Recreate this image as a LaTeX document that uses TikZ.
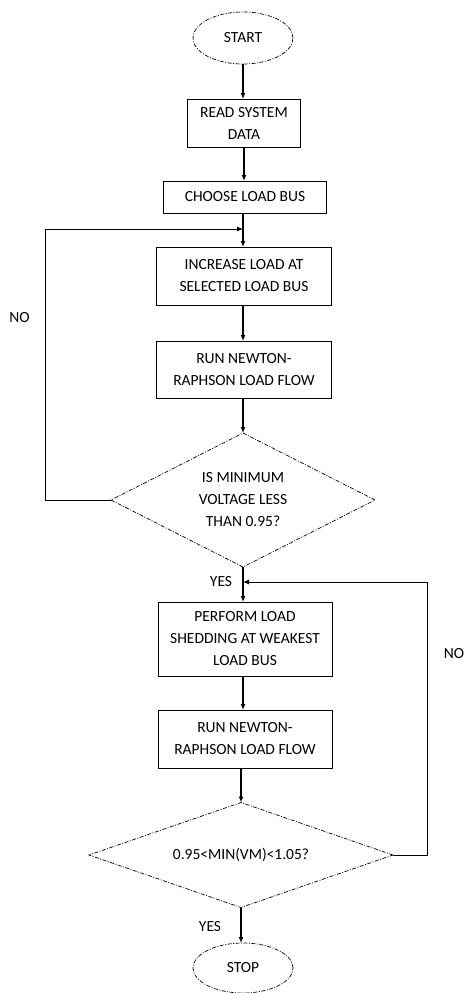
\documentclass[tikz,border=0pt]{standalone}
\usepackage{fontspec}
\setmainfont{Carlito}
\usetikzlibrary{shapes.geometric,arrows.meta}
\begin{document}
\begin{tikzpicture}[x=1pt,y=-1pt,
  font=\fontsize{15.5}{22}\selectfont,
  every node/.style={outer sep=0pt},
  procbox/.style={draw, line width=0.9pt, rectangle, inner sep=0pt, align=center},
  term/.style={draw, line width=0.7pt, ellipse, dash pattern=on 4pt off 1.5pt on 1pt off 1.5pt, inner sep=0pt, minimum width=100pt, minimum height=52pt},
  decision/.style={draw, line width=0.7pt, diamond, aspect=2, dash pattern=on 4pt off 1.5pt on 1pt off 1.5pt, inner sep=0pt, align=center},
  flow/.style={line width=1.2pt, -{Latex[length=6pt,width=5pt]}},
  loopline/.style={line width=0.9pt, -{Latex[length=6pt,width=5pt]}},
  lbl/.style={inner sep=0pt}
]
\useasboundingbox (0,0) rectangle (465,993);

\node[term] (start) at (243,38) {START};
\node[procbox, minimum width=113pt, minimum height=48pt] (read) at (244,123) {READ SYSTEM\\DATA};
\node[procbox, minimum width=163pt, minimum height=32pt] (choose) at (245,197) {CHOOSE LOAD BUS};
\node[procbox, minimum width=175pt, minimum height=58pt] (inc) at (244,276) {INCREASE LOAD AT\\SELECTED LOAD BUS};
\node[procbox, minimum width=175pt, minimum height=57pt] (run1) at (244,369.5) {RUN NEWTON-\\RAPHSON LOAD FLOW};
\node[decision, minimum width=264pt, minimum height=134pt] (d1) at (243,500) {IS MINIMUM\\VOLTAGE LESS\\THAN 0.95?};
\node[procbox, minimum width=174pt, minimum height=74pt] (shed) at (245,639) {PERFORM LOAD\\SHEDDING AT WEAKEST\\LOAD BUS};
\node[procbox, minimum width=174pt, minimum height=58pt] (run2) at (245,739) {RUN NEWTON-\\RAPHSON LOAD FLOW};
\node[decision, minimum width=304pt, minimum height=105pt] (d2) at (241,855) {0.95<MIN(VM)<1.05?};
\node[term, minimum height=50pt] (stop) at (243,968) {STOP};

\coordinate (j1) at (243,229);
\coordinate (j2) at (243,582);

\node[lbl] (no1) at (19.5,318) {NO};
\node[lbl] (yes1) at (221,582) {YES};
\node[lbl] (no2) at (454,654) {NO};
\node[lbl] (yes2) at (210,927) {YES};

\draw[flow] (start) -- (start |- read.north);
\draw[flow] (read) -- (read.south |- choose.north);
\draw[flow] (choose.south -| j1) -- (j1 |- inc.north);
\draw[flow] (inc.south -| j1) -- (j1 |- run1.north);
\draw[flow] (run1.south -| d1) -- (d1.north);
\draw[loopline] (d1.west) -- ++(-66,0) |- (j1);
\draw[flow] (d1.south) -- (d1.south |- shed.north);
\draw[flow] (shed.south -| j2) -- (j2 |- run2.north);
\draw[flow] (run2.south -| d2) -- (d2.north);
\draw[loopline] (d2.east) -- ++(34,0) |- (j2);
\draw[flow] (d2.south) -- (d2.south |- stop.north);
\end{tikzpicture}
\end{document}
